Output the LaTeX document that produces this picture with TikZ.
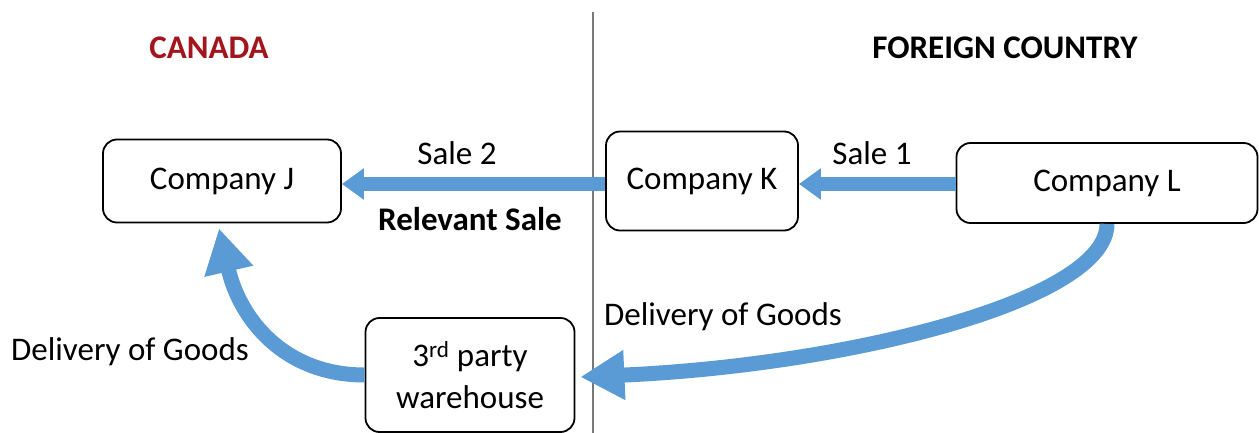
\documentclass[tikz,border=0pt]{standalone}
\usepackage{fontspec}
\setmainfont{Carlito}
\usetikzlibrary{arrows.meta,calc}
\definecolor{arrowblue}{RGB}{91,155,213}
\definecolor{canadared}{RGB}{163,21,28}
\definecolor{divider}{RGB}{120,120,120}
\begin{document}
\begin{tikzpicture}[x=1pt,y=-1pt,
  company/.style={draw=black, line width=1.8pt, rounded corners=14pt, inner sep=0pt, align=center, font=\fontsize{33}{42}\selectfont},
  lbl/.style={inner sep=0pt, anchor=base, font=\fontsize{33}{40}\selectfont},
  lblb/.style={inner sep=0pt, anchor=base, font=\bfseries\fontsize{33}{40}\selectfont},
  flow/.style={draw=arrowblue, line width=14pt, -{Triangle[width=30pt,length=22pt]}},
  bigflow/.style={draw=arrowblue, line width=15pt, -{Triangle[width=47pt,length=44pt]}}]
\useasboundingbox (0,0) rectangle (1259,433);
% divider
\coordinate (dtop) at (593,12);
\coordinate (dbot) at (593,433);
\draw[divider, line width=1.3pt] (dtop) -- (dbot);
% boxes
\node[company, minimum width=238pt, minimum height=83pt] (J) at (222,181) {Company J};
\node[company, minimum width=192pt, minimum height=99pt] (K) at (702,181) {Company K};
\node[company, minimum width=301pt, minimum height=80pt] (L) at (1107,183) {Company L};
\node[company, minimum width=209pt, minimum height=114pt] (W) at (470,375) {3\textsuperscript{rd} party\\warehouse};
% straight arrows
\coordinate (s) at (0,184);
\draw[flow] (K.west |- s) -- (J.east |- s);
\draw[flow] (L.west |- s) -- (K.east |- s);
% curved arrows
\coordinate (wtip) at ($(W.east)+(5,2)$);
\draw[bigflow] (L.south) .. controls (1107,300) and (850,365) .. (wtip);
\coordinate (jtip) at ($(J.south)+(-3,5)$);
\draw[bigflow] (W.west) .. controls (285,375) and (240,320) .. (jtip);
% labels
\node[lblb, text=canadared] (canada) at (209,59) {CANADA};
\node[lblb] (foreign) at (1005,59) {FOREIGN COUNTRY};
\node[lbl] (sale2) at (457,165) {Sale 2};
\node[lblb] (relevant) at (470,230) {Relevant Sale};
\node[lbl] (sale1) at (872,165) {Sale 1};
\node[lbl] (delR) at (723,325) {Delivery of Goods};
\node[lbl] (delL) at (130,360) {Delivery of Goods};
\end{tikzpicture}
\end{document}
